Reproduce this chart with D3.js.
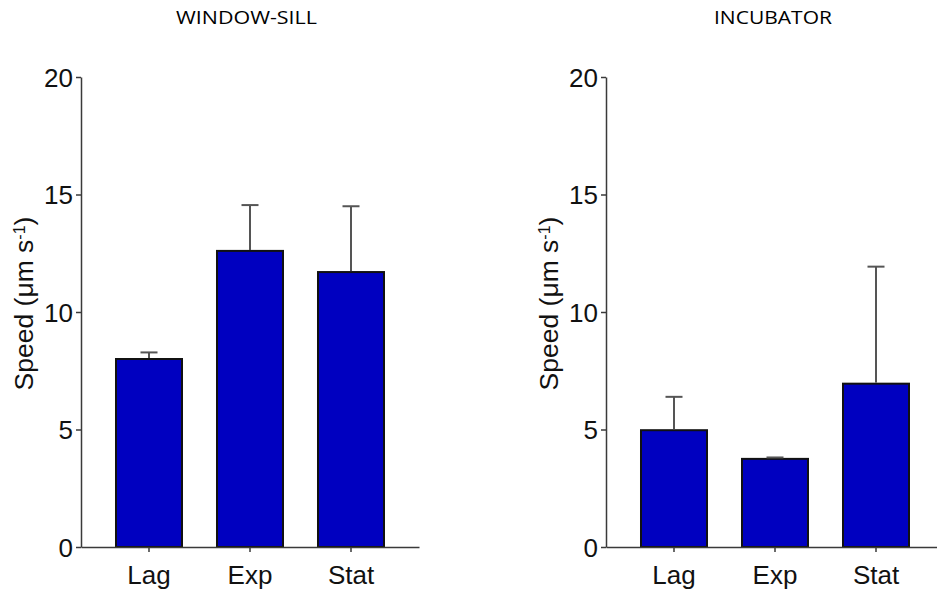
<!DOCTYPE html>
<html>
<head>
<meta charset="utf-8">
<script src="https://cdn.jsdelivr.net/npm/d3@7"></script>
<style>
  html, body { margin: 0; padding: 0; background: #fff; }
  svg { display: block; }
</style>
</head>
<body>
<svg id="chart" width="937" height="592"></svg>
<script>
// Growth phases on the x axis
const phases = ["Lag", "Exp", "Stat"];
// Panel titles
const panelTitles = ["WINDOW-SILL", "INCUBATOR"];
// Mean swimming speed (µm s-1) per phase
const windowSillMean = [8.0, 12.6, 11.7];
const windowSillErr = [0.28, 1.95, 2.8];
const incubatorMean = [4.97, 3.75, 6.95];
const incubatorErr = [1.42, 0.06, 4.98];
// Y tick values
const yTicks = [0, 5, 10, 15, 20];

const svg = d3.select("#chart");
const barFill = "#0000C0";
const axisColor = "#3a3a3a";

const panels = [
  { title: panelTitles[0], mean: windowSillMean, err: windowSillErr, x0: 81, titleX: 246.5, titleW: 141, labelX: 33 },
  { title: panelTitles[1], mean: incubatorMean, err: incubatorErr, x0: 606, titleX: 773, titleW: 118, labelX: 558 }
];

const y = d3.scaleLinear().domain([0, 20]).range([547, 77]);

panels.forEach(p => {
  const x = d3.scaleBand()
    .domain(phases)
    .range([p.x0, p.x0 + 338])
    .paddingInner(0.3465)
    .paddingOuter(0.3465);

  const g = svg.append("g");

  // Title
  g.append("text")
    .attr("x", p.titleX)
    .attr("y", 24)
    .attr("text-anchor", "middle")
    .attr("font-family", "'Open Sans', sans-serif")
    .attr("font-size", 17.5)
    .attr("textLength", p.titleW)
    .attr("lengthAdjust", "spacingAndGlyphs")
    .attr("fill", "#000")
    .text(p.title);

  // Bars
  g.selectAll("rect.bar")
    .data(phases)
    .join("rect")
    .attr("class", "bar")
    .attr("x", d => x(d))
    .attr("y", (d, i) => y(p.mean[i]))
    .attr("width", x.bandwidth())
    .attr("height", (d, i) => y(0) - y(p.mean[i]))
    .attr("fill", barFill)
    .attr("stroke", "#111")
    .attr("stroke-width", 2);

  // Error bars (upper only)
  const eb = g.selectAll("g.err")
    .data(phases)
    .join("g")
    .attr("class", "err");
  eb.append("line")
    .attr("x1", d => x(d) + x.bandwidth() / 2)
    .attr("x2", d => x(d) + x.bandwidth() / 2)
    .attr("y1", (d, i) => y(p.mean[i]) - 1)
    .attr("y2", (d, i) => y(p.mean[i] + p.err[i]))
    .attr("stroke", "#555")
    .attr("stroke-width", 2);
  eb.append("line")
    .attr("x1", d => x(d) + x.bandwidth() / 2 - 8.5)
    .attr("x2", d => x(d) + x.bandwidth() / 2 + 8.5)
    .attr("y1", (d, i) => y(p.mean[i] + p.err[i]))
    .attr("y2", (d, i) => y(p.mean[i] + p.err[i]))
    .attr("stroke", "#555")
    .attr("stroke-width", 2);

  // Y axis
  const ya = g.append("g")
    .attr("transform", `translate(${p.x0},0)`)
    .call(d3.axisLeft(y).tickValues(yTicks).tickSize(5).tickSizeOuter(0).tickPadding(3));
  // X axis
  const xa = g.append("g")
    .attr("transform", `translate(0,${y(0)})`)
    .call(d3.axisBottom(x).tickSize(5).tickSizeOuter(0).tickPadding(7));

  [ya, xa].forEach(a => {
    a.selectAll("path, line").attr("stroke", axisColor).attr("stroke-width", 1.5);
    a.selectAll("text")
      .attr("font-family", "'Liberation Sans', Arial, sans-serif")
      .attr("fill", "#111");
  });
  ya.selectAll("text").attr("font-size", 26).attr("dy", "0.36em");
  xa.selectAll("text").attr("font-size", 26).attr("dy", "0.97em");

  // Y axis label
  const lbl = g.append("text")
    .attr("transform", `translate(${p.labelX},303.5) rotate(-90)`)
    .attr("text-anchor", "middle")
    .attr("font-family", "'Liberation Sans', Arial, sans-serif")
    .attr("font-size", 26.5)
    .attr("fill", "#111");
  lbl.append("tspan").text("Speed (\u03BCm s");
  lbl.append("tspan").attr("baseline-shift", "super").attr("font-size", 16).text("-1");
  lbl.append("tspan").text(")");
});
</script>
</body>
</html>
